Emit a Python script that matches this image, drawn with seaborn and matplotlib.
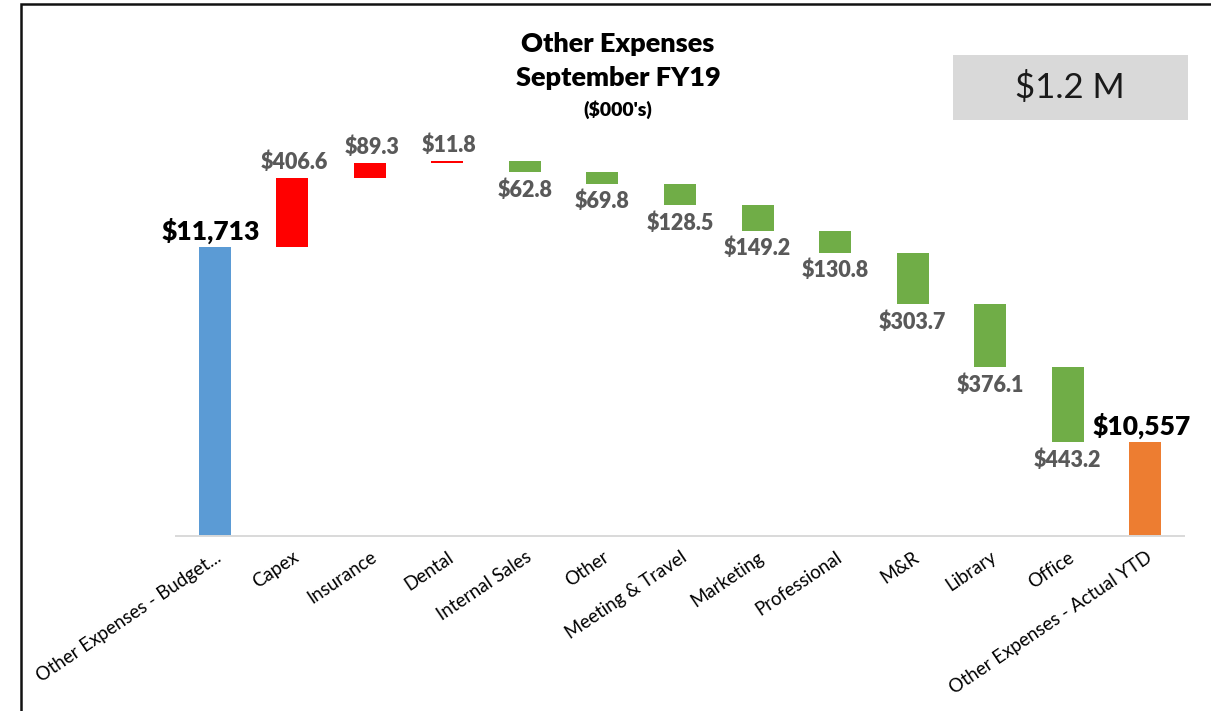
import numpy as np
import pandas as pd
import matplotlib
matplotlib.use('Agg')
import matplotlib.pyplot as plt
from matplotlib.patches import Rectangle
import seaborn as sns

# Waterfall values ($000's)
categories = ['Other Expenses - Budget...', 'Capex', 'Insurance', 'Dental',
              'Internal Sales', 'Other', 'Meeting & Travel', 'Marketing',
              'Professional', 'M&R', 'Library', 'Office',
              'Other Expenses - Actual YTD']
budget_total = 11713.0
actual_total = 10557.0
changes = [406.6, 89.3, 11.8, -62.8, -69.8, -128.5, -149.2, -130.8,
           -303.7, -376.1, -443.2]
axis_floor = 10000.0  # value axis starts here in the original chart

# build floating bars
levels = budget_total + np.concatenate([[0.0], np.cumsum(changes)])
bottoms = [axis_floor] + [min(a, b) for a, b in zip(levels[:-1], levels[1:])] + [axis_floor]
heights = [budget_total - axis_floor] + [abs(c) for c in changes] + [actual_total - axis_floor]
colors = ['#5B9BD5'] + ['#FF0000' if c > 0 else '#70AD47' for c in changes] + ['#ED7D31']

df = pd.DataFrame({'category': categories, 'height': heights, 'bottom': bottoms})

W, H = 1211, 711
px_per_unit = 0.1687

sns.set_theme(style='white')
plt.rcParams['font.family'] = ['Lato', 'DejaVu Sans']

fig = plt.figure(figsize=(W / 100, H / 100), dpi=100)
ax = fig.add_axes([176 / W, 1 - 536 / H, 1008 / W, 532 / H])

sns.barplot(data=df, x='category', y='height', bottom=df['bottom'].values,
            color=colors[0], saturation=1, width=0.413, errorbar=None,
            linewidth=0, ax=ax)
for patch, c in zip(ax.patches, colors):
    patch.set_facecolor(c)
    patch.set_edgecolor(c)

ax.set_xlim(-0.5, len(categories) - 0.5)
ax.set_ylim(axis_floor, axis_floor + 532 / px_per_unit)

# data labels
for i, (b, h) in enumerate(zip(bottoms, heights)):
    if i == 0 or i == len(categories) - 1:
        ax.annotate(f"${b + h:,.0f}", (i, b + h), xytext=(-4, 16),
                    textcoords='offset pixels', ha='center', va='center',
                    fontsize=19, fontweight='heavy', color='black')
    elif changes[i - 1] > 0:
        ax.annotate(f"${changes[i - 1]:.1f}", (i, b + h), xytext=(2, 16),
                    textcoords='offset pixels', ha='center', va='center',
                    fontsize=15.5, fontweight='heavy', color='#595959')
    else:
        ax.annotate(f"${abs(changes[i - 1]):.1f}", (i, b), xytext=(0, -18),
                    textcoords='offset pixels', ha='center', va='center',
                    fontsize=15.5, fontweight='heavy', color='#595959')

ax.set_xlabel('')
ax.set_ylabel('')
ax.set_yticks([])
ax.set_xticks(range(len(categories)))
ax.set_xticklabels(categories, rotation=34, ha='right', rotation_mode='anchor',
                   fontsize=13.4, color='black')
ax.tick_params(axis='x', length=0, pad=9)
for s in ['left', 'top', 'right']:
    ax.spines[s].set_visible(False)
ax.spines['bottom'].set_color('#D9D9D9')
ax.spines['bottom'].set_linewidth(1.4)

# titles
fig.text(618 / W, 1 - 44 / H, 'Other Expenses', ha='center', va='center',
         fontsize=19.5, fontweight='heavy', color='black')
fig.text(618 / W, 1 - 78 / H, 'September FY19', ha='center', va='center',
         fontsize=19.5, fontweight='heavy', color='black')
fig.text(618 / W, 1 - 110 / H, "($000's)", ha='center', va='center',
         fontsize=14, fontweight='heavy', color='black')

# variance box
fig.add_artist(Rectangle((953 / W, 1 - 120 / H), 235 / W, 65 / H,
                         transform=fig.transFigure, facecolor='#D9D9D9',
                         edgecolor='none'))
fig.text(1070 / W, 1 - 88 / H, f"${(budget_total - actual_total) / 1000:.1f} M",
         ha='center', va='center', fontsize=25, color='#1a1a1a')

# outer frame
fig.add_artist(Rectangle((21 / W, -0.05), 1.0, 1.05 - 4 / H,
                         transform=fig.transFigure, fill=False,
                         edgecolor='#111111', linewidth=1.8, clip_on=False))

fig.savefig('out.png', dpi=100)
